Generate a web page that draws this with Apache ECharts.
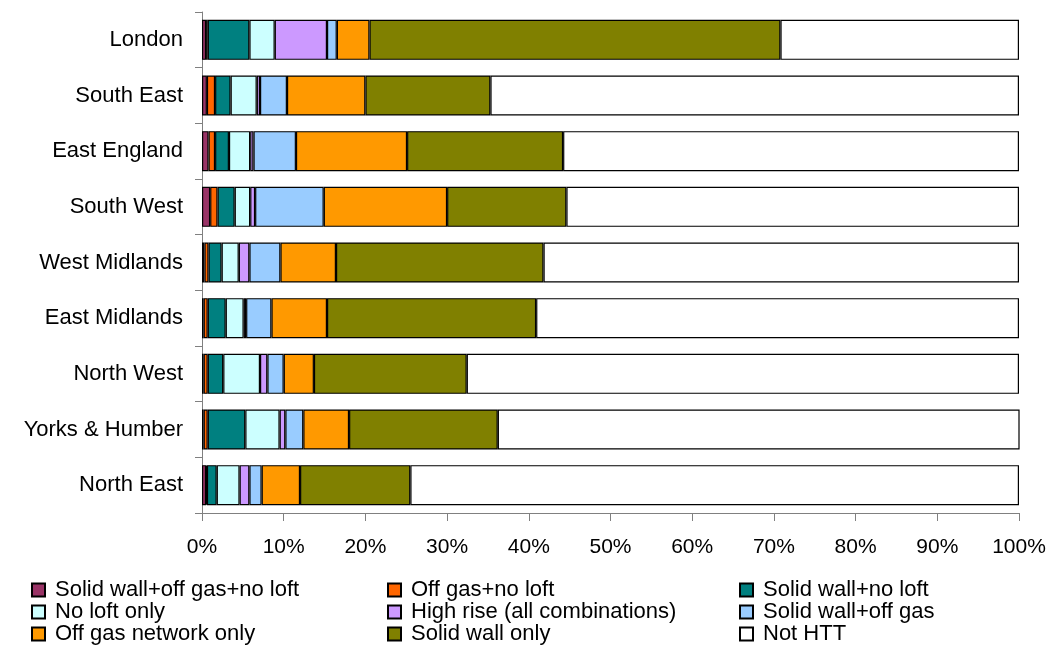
<!DOCTYPE html>
<html>
<head>
<meta charset="utf-8">
<script src="https://cdn.jsdelivr.net/npm/echarts@6/dist/echarts.min.js"></script>
<style>
html,body{margin:0;padding:0;background:#fff;}
#chart{width:1052px;height:646px;}
</style>
</head>
<body>
<div id="chart"></div>
<script>
const categories = ['London','South East','East England','South West','West Midlands','East Midlands','North West','Yorks & Humber','North East'];

const seriesNames = ['Solid wall+off gas+no loft','Off gas+no loft','Solid wall+no loft','No loft only','High rise (all combinations)','Solid wall+off gas','Off gas network only','Solid wall only','Not HTT'];
const seriesColors = ['#993366','#FF6600','#008080','#CCFFFF','#CC99FF','#99CCFF','#FF9900','#808000','#FFFFFF'];

const solidOffNoLoft = [0.5, 0.6, 0.8, 1.0, 0.3, 0.2, 0.2, 0.2, 0.5];
const offGasNoLoft   = [0.2, 1.0, 0.8, 0.9, 0.5, 0.5, 0.5, 0.5, 0.1];
const solidNoLoft    = [5.1, 1.9, 1.7, 2.1, 1.6, 2.2, 1.9, 4.6, 1.2];
const noLoftOnly     = [3.1, 3.2, 2.6, 1.9, 2.1, 2.2, 4.5, 4.2, 2.8];
const highRise       = [6.4, 0.4, 0.4, 0.6, 1.3, 0.3, 0.9, 0.7, 1.2];
const solidOffGas    = [1.2, 3.3, 5.2, 8.4, 3.8, 3.1, 2.0, 2.2, 1.5];
const offGasOnly     = [4.0, 9.6, 13.6, 15.1, 6.8, 6.8, 3.7, 5.6, 4.7];
const solidOnly      = [50.3, 15.3, 19.1, 14.6, 25.4, 25.6, 18.7, 18.2, 13.5];
const notHTT         = [29.2, 64.7, 55.8, 55.4, 58.2, 59.1, 67.6, 64.0, 74.5];

const xTickLabels = ['0%','10%','20%','30%','40%','50%','60%','70%','80%','90%','100%'];

const allValues = [solidOffNoLoft, offGasNoLoft, solidNoLoft, noLoftOnly, highRise, solidOffGas, offGasOnly, solidOnly, notHTT];

const FONT = '"Liberation Sans", Arial, sans-serif';

const chart = echarts.init(document.getElementById('chart'), null, {renderer:'canvas'});

const series = allValues.map((vals, i) => ({
  name: seriesNames[i],
  type: 'bar',
  stack: 'total',
  data: vals,
  barCategoryGap: '28%',
  itemStyle: { color: seriesColors[i], borderColor: '#000', borderWidth: 1.2 },
  emphasis: { disabled: true }
}));

function legendCol(idxs, left) {
  return {
    type: 'plain',
    orient: 'vertical',
    left: left,
    top: 579,
    height: 67,
    padding: 0,
    itemWidth: 13,
    itemHeight: 13,
    itemGap: 0,
    icon: 'rect',
    selectedMode: false,
    data: idxs.map(i => seriesNames[i]),
    textStyle: { fontFamily: FONT, fontSize: 22, color: '#000', lineHeight: 21, padding: [0,0,0,5] }
  };
}

chart.setOption({
  animation: false,
  backgroundColor: '#fff',
  grid: { left: 202, right: 33, top: 12, bottom: 133, containLabel: false },
  legend: [ legendCol([0,3,6], 31), legendCol([1,4,7], 387), legendCol([2,5,8], 739) ],
  xAxis: {
    type: 'value',
    min: 0, max: 100, interval: 10,
    splitLine: { show: false },
    axisLine: { show: true, lineStyle: { color: '#808080', width: 1 } },
    axisTick: { show: true, length: 8, lineStyle: { color: '#808080' } },
    axisLabel: {
      margin: 24,
      fontFamily: FONT, fontSize: 21, color: '#000',
      formatter: v => xTickLabels[Math.round(v / 10)]
    }
  },
  yAxis: {
    type: 'category',
    data: categories,
    inverse: true,
    axisLine: { show: true, lineStyle: { color: '#808080', width: 1 } },
    axisTick: { show: true, length: 7, lineStyle: { color: '#808080' } },
    axisLabel: { margin: 19, fontFamily: FONT, fontSize: 22, color: '#000' }
  },
  series: series
});
</script>
</body>
</html>
